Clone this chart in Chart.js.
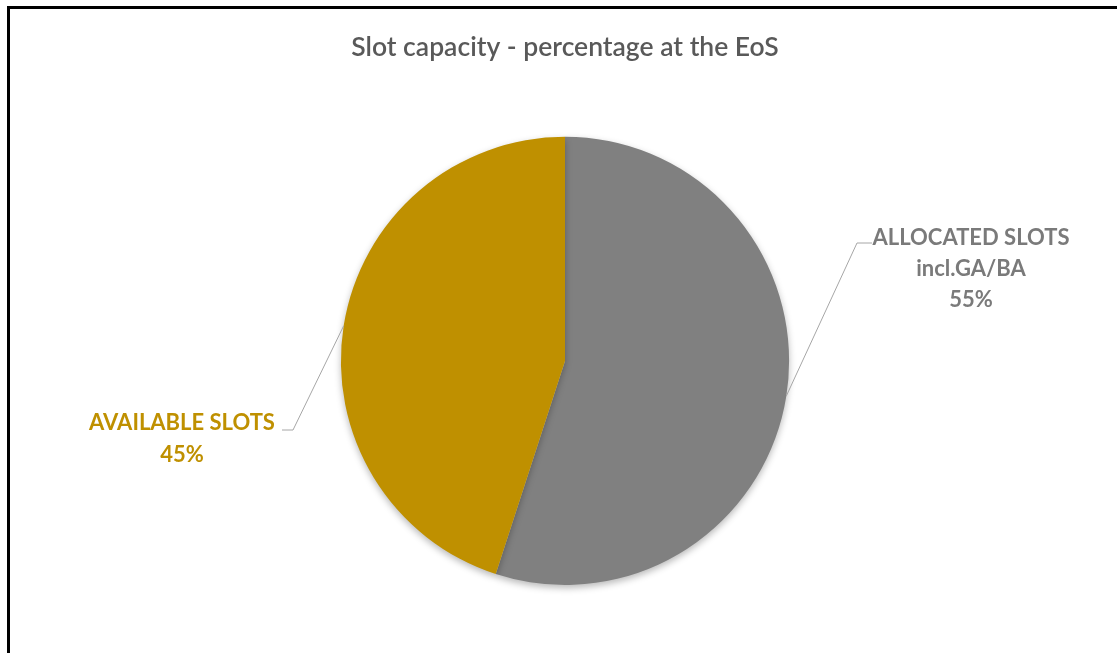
<!DOCTYPE html>
<html>
<head>
<meta charset="utf-8">
<script src="https://cdn.jsdelivr.net/npm/chart.js@4"></script>
<style>
  body { margin: 0; background: #fff; }
  #wrap { position: relative; width: 1117px; height: 653px; }
  #frame { position: absolute; left: 7px; top: 6px; right: -10px; bottom: -10px;
           border-top: 3px solid #000; border-left: 3px solid #000; pointer-events: none; }
</style>
</head>
<body>
<div id="wrap">
  <canvas id="pieChart" width="1117" height="653"></canvas>
  <div id="frame"></div>
</div>
<script>
// данные диаграммы
var categories = ['ALLOCATED SLOTS incl.GA/BA', 'AVAILABLE SLOTS'];
var labelLines = [['ALLOCATED SLOTS', 'incl.GA/BA'], ['AVAILABLE SLOTS']];
var shares = [55, 45];
var colors = ['#808080', '#BF9000'];
var labelColors = ['#7a7a7a', '#BF9000'];

// подписи с выносками
var calloutPlugin = {
  id: 'callouts',
  beforeDatasetsDraw: function(chart) {
    var ctx = chart.ctx;
    ctx.save();
    ctx.shadowColor = 'rgba(0,0,0,0.28)';
    ctx.shadowBlur = 7;
    ctx.shadowOffsetY = 3;
  },
  afterDatasetsDraw: function(chart) {
    chart.ctx.restore();
  },
  afterDraw: function(chart, args, opts) {
    var ctx = chart.ctx;
    var meta = chart.getDatasetMeta(0);
    meta.data.forEach(function(arc, i) {
      var p = arc.getProps(['x', 'y', 'startAngle', 'endAngle', 'outerRadius']);
      var mid = (p.startAngle + p.endAngle) / 2;
      var sx = p.x + Math.cos(mid) * p.outerRadius;
      var sy = p.y + Math.sin(mid) * p.outerRadius;
      var pos = opts.positions[i];
      ctx.save();
      ctx.strokeStyle = '#a6a6a6';
      ctx.lineWidth = 1;
      ctx.beginPath();
      ctx.moveTo(sx, sy);
      ctx.lineTo(pos.elbowX, pos.elbowY);
      ctx.lineTo(pos.endX, pos.elbowY);
      ctx.stroke();

      ctx.fillStyle = labelColors[i];
      ctx.font = 'bold 22px Lato';
      ctx.textAlign = 'center';
      ctx.textBaseline = 'middle';
      var lines = labelLines[i].concat([shares[i] + '%']);
      lines.forEach(function(t, k) {
        ctx.fillText(t, pos.textX, pos.textY + k * pos.lineH);
      });
      ctx.restore();
    });
  }
};

var ctx1 = document.getElementById('pieChart').getContext('2d');
var pieChart = new Chart(ctx1, {
  type: 'pie',
  data: {
    labels: categories,
    datasets: [{
      data: shares,
      backgroundColor: colors,
      borderWidth: 0,
      hoverOffset: 0
    }]
  },
  options: {
    responsive: false,
    animation: false,
    layout: { padding: { top: 0, left: 13, right: 0, bottom: 68 } },
    plugins: {
      legend: { display: false },
      tooltip: { enabled: false },
      title: {
        display: true,
        text: 'Slot capacity - percentage at the EoS',
        color: '#595959',
        font: { family: 'Lato', size: 26.5, weight: '600' },
        padding: { top: 32, bottom: 73 }
      },
      callouts: {
        positions: [
          { elbowX: 857, elbowY: 243, endX: 872, textX: 971, textY: 238, lineH: 31 },
          { elbowX: 293, elbowY: 430, endX: 282, textX: 182, textY: 423, lineH: 32 }
        ]
      }
    }
  },
  plugins: [calloutPlugin]
});
</script>
</body>
</html>
